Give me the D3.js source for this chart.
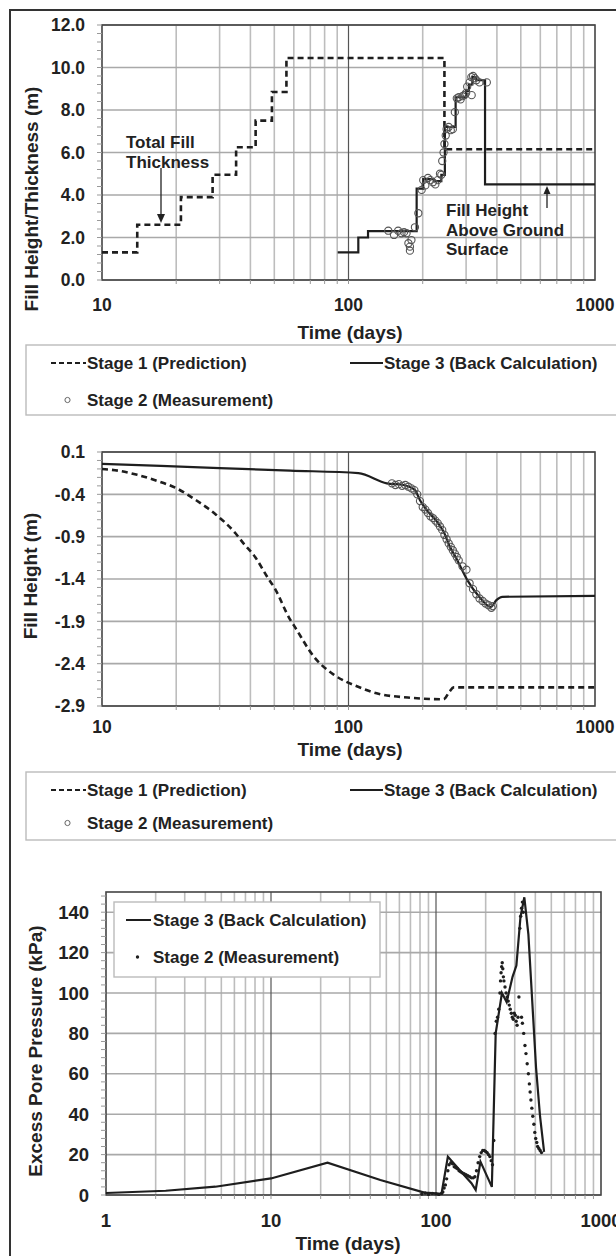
<!DOCTYPE html>
<meta charset="utf-8">
<head>
<script type="text/javascript" src="https://cdn.jsdelivr.net/npm/d3@7"></script>
<style>
  body { margin: 0; background: #fff; }
  text { font-family: "Liberation Sans", Arial, sans-serif; font-weight: bold; fill: #222; }
</style>
</head>
<body>
<script>
// ---------- data ----------
// panel 1: fill height / thickness (m)
var fillPrediction = [[10,1.3],[13.9,2.6],[20.9,3.9],[28.1,4.95],[35,6.25],[42,7.5],[48.9,8.85],[56,10.45],[245,6.15],[1000,6.15]];
var fillBackCalc = [[90.4,1.3],[109.6,2.0],[120,2.3],[189,4.3],[201,4.75],[222,4.65],[238,4.95],[246,7.2],[272,8.6],[300,8.9],[308,9.2],[318,9.55],[330,9.4],[358,4.5],[1000,4.5]];
var fillMeasured = [[145,2.32],[153,2.12],[159,2.32],[164,2.2],[168,2.25],[172,2.2],[175,1.73],[177.5,1.57],[180,1.88],[177.5,1.38],[186,2.48],[192,3.14],
  [198,4.24],[201,4.7],[205,4.45],[210,4.8],[215,4.7],[220,4.6],[225,4.5],[230,4.7],[235,5.0],[238,4.95],[240,5.6],[243,6.0],[245,6.4],[248,6.8],
  [250,7.1],[255,7.2],[260,7.05],[265,7.1],[270,7.9],[275,8.55],[280,8.6],[285,8.5],[290,8.65],[295,8.7],[300,8.8],[303,9.1],[316,8.7],[310,9.3],
  [315,9.55],[320,9.6],[325,9.5],[330,9.4],[340,9.3],[364,9.3]];

// panel 2: fill height (settlement, m)
var settlePrediction = [[10,-0.10],[11.6,-0.12],[13.9,-0.17],[16.7,-0.24],[20.1,-0.33],[24.1,-0.47],[29,-0.64],[34.8,-0.86],[37.5,-0.98],[41.8,-1.14],
  [46.7,-1.37],[50.2,-1.51],[58,-1.88],[60.4,-1.96],[72.5,-2.32],[87.1,-2.53],[97.3,-2.61],[104.7,-2.65],[130,-2.75],[174,-2.80],[243,-2.82],
  [257,-2.73],[267,-2.68],[1000,-2.68]];
var settleBackCalc = [[10,-0.04],[30,-0.09],[58,-0.12],[109.7,-0.15],[143,-0.27],[167,-0.29],[186,-0.35],[195,-0.47],[207.5,-0.585],[228,-0.72],
  [243,-0.84],[258,-1.02],[272,-1.14],[303,-1.41],[339,-1.61],[378,-1.73],[398,-1.65],[421,-1.61],[1000,-1.60]];
var settleMeasured = [[150,-0.27],[155,-0.29],[160,-0.28],[165,-0.30],[170,-0.29],[175,-0.31],[180,-0.33],[185,-0.35],[190,-0.40],[195,-0.48],
  [200,-0.55],[205,-0.58],[210,-0.62],[215,-0.66],[220,-0.68],[225,-0.71],[230,-0.74],[235,-0.78],[240,-0.82],[245,-0.88],[250,-0.93],
  [255,-0.98],[260,-1.02],[265,-1.06],[270,-1.10],[275,-1.14],[280,-1.18],[290,-1.25],[301,-1.29],[310,-1.45],[320,-1.52],[330,-1.58],
  [340,-1.63],[350,-1.66],[360,-1.69],[370,-1.71],[380,-1.74],[385,-1.72]];

// panel 3: excess pore pressure (kPa)
var poreBackCalc = [[1,1.0],[2.3,2.1],[4.6,4.1],[10,8.2],[22,16],[46,7.4],[85,1.2],[100,0.8],[108,0.6],[118,19],[139,12.4],[164,5.8],[174,2.5],
  [186,16.5],[218,4],[230,80],[251,100],[268,95.5],[291,108],[307,113.6],[325,137.5],[343,147.4],[363,129],[383,96],[404,63],[427,39],[452,21.4]];
var poreMeasured = [[82,0.5],[86,1.0],[90,0.3],[95,0.8],[100,0.5],[104,0.2],[108,0.8],[110,1.5],[112,3.5],[114,5],[116,8],[118,12],[120,15],
  [123,16],[126,15.5],[129,14],[132,13.5],[135,13],[138,12],[141,11.5],[144,11],[148,10.5],[152,10],[156,9.5],[160,9],[164,8.5],[168,8.5],
  [172,9],[176,12],[180,16],[184,19],[188,21],[192,22],[196,22],[200,21.5],[204,21],[208,20],[212,19],[216,17],[220,15],[224,27],[228,80],
  [232,86],[236,88],[240,92],[244,100],[246,106],[248,110],[250,113],[252,115],[254,112],[256,108],[258,106],[262,103],[266,100],[270,98],
  [274,96],[278,94],[282,92],[286,90],[290,88],[294,87],[298,90],[302,89],[306,86],[310,84],[314,88],[318,98],[322,132],[326,138],[330,142],
  [334,145],[338,140],[330,88],[334,85],[340,80],[346,74],[351,70],[357,65],[363,60],[368,55],[372,51],[376,47],[381,43],[386,39],[392,35],
  [397,31],[402,28],[408,26],[413,24],[420,23],[428,22],[436,21]];

var legendTop = ["Stage 1 (Prediction)", "Stage 3 (Back Calculation)", "Stage 2 (Measurement)"];
var legendPore = ["Stage 3 (Back Calculation)", "Stage 2 (Measurement)"];

// ---------- drawing ----------
var svg = d3.select("body").append("svg")
    .attr("width", 616)
    .attr("height", 1256);

svg.append("rect").attr("width", 616).attr("height", 1256).attr("fill", "#fff");

// outer figure frame
svg.append("rect")
    .attr("x", 10).attr("y", 10)
    .attr("width", 640).attr("height", 1280)
    .attr("fill", "none").attr("stroke", "#333").attr("stroke-width", 2);

var clipId = 0;

function drawPanel(p) {
  var x = d3.scaleLog().domain(p.xDomain).range([p.left, p.right]);
  var y = d3.scaleLinear().domain(p.yDomain).range([p.bottom, p.top]);
  var g = svg.append("g");

  // vertical grid: minor + decades
  var minor = [], decades = [];
  for (var d = p.xDomain[0]; d < p.xDomain[1]; d *= 10) {
    for (var k = 2; k <= 9; k++) minor.push(d * k);
    if (d > p.xDomain[0]) decades.push(d);
  }
  g.selectAll(".vg").data(minor).enter().append("line")
      .attr("x1", d => x(d)).attr("x2", d => x(d))
      .attr("y1", p.top).attr("y2", p.bottom)
      .attr("stroke", "#bdbdbd").attr("stroke-width", 1.6);

  // horizontal grid
  g.selectAll(".hg").data(p.yTicks).enter().append("line")
      .attr("x1", p.left).attr("x2", p.right)
      .attr("y1", d => y(d)).attr("y2", d => y(d))
      .attr("stroke", "#a9a9a9").attr("stroke-width", 1.6);

  g.selectAll(".dg").data(decades).enter().append("line")
      .attr("x1", d => x(d)).attr("x2", d => x(d))
      .attr("y1", p.top).attr("y2", p.bottom)
      .attr("stroke", "#555").attr("stroke-width", 1.2);

  // frame
  g.append("rect")
      .attr("x", p.left).attr("y", p.top)
      .attr("width", p.right - p.left).attr("height", p.bottom - p.top)
      .attr("fill", "none").attr("stroke", "#444").attr("stroke-width", 1.6);

  // y minor ticks
  g.selectAll(".ym").data(p.yMinor).enter().append("line")
      .attr("x1", p.left - 5).attr("x2", p.left)
      .attr("y1", d => y(d)).attr("y2", d => y(d))
      .attr("stroke", "#999").attr("stroke-width", 1);

  // x ticks below axis
  g.selectAll(".xm").data(minor.concat(decades)).enter().append("line")
      .attr("x1", d => x(d)).attr("x2", d => x(d))
      .attr("y1", p.bottom).attr("y2", p.bottom + 4)
      .attr("stroke", "#999").attr("stroke-width", 1);

  // y tick labels
  g.selectAll(".yl").data(p.yTicks).enter().append("text")
      .attr("x", p.left - 17).attr("y", d => y(d)).attr("dy", "0.36em")
      .attr("text-anchor", "end")
      .style("font-size", p.tickSize + "px")
      .text(p.yFormat);

  // x tick labels
  var xl = decades.slice(); xl.unshift(p.xDomain[0]); xl.push(p.xDomain[1]);
  g.selectAll(".xl").data(xl).enter().append("text")
      .attr("x", d => x(d)).attr("y", p.bottom + p.xLabelGap).attr("dy", "0.36em")
      .attr("text-anchor", "middle")
      .style("font-size", p.tickSize + "px")
      .text(d => d);

  // axis titles
  g.append("text")
      .attr("x", p.xTitleX).attr("y", p.xTitleY).attr("dy", "0.36em")
      .attr("text-anchor", "middle").style("font-size", "19px")
      .text("Time (days)");
  g.append("text")
      .attr("transform", "translate(" + p.yTitleX + "," + p.yTitleY + ") rotate(-90)")
      .attr("dy", "0.36em").attr("text-anchor", "middle").style("font-size", "19px")
      .text(p.yTitle);

  clipId++;
  svg.append("clipPath").attr("id", "clip" + clipId).append("rect")
      .attr("x", p.left).attr("y", p.top - 1)
      .attr("width", p.right - p.left).attr("height", p.bottom - p.top + 2);
  var plot = svg.append("g").attr("clip-path", "url(#clip" + clipId + ")");
  return { x: x, y: y, g: plot };
}

function drawLine(P, data, curve, dashed, width) {
  P.g.append("path")
      .datum(data)
      .attr("fill", "none")
      .attr("stroke", "#1e1e1e")
      .attr("stroke-width", width)
      .attr("stroke-dasharray", dashed ? "6,4" : null)
      .attr("d", d3.line().curve(curve).x(d => P.x(d[0])).y(d => P.y(d[1])));
}

function drawCircles(P, data) {
  P.g.selectAll(null).data(data).enter().append("circle")
      .attr("cx", d => P.x(d[0])).attr("cy", d => P.y(d[1]))
      .attr("r", 3.6)
      .attr("fill", "none").attr("stroke", "#555").attr("stroke-width", 1.1);
}

function drawLegendWide(top, bottom, rowY1, rowY2) {
  svg.append("rect")
      .attr("x", 26).attr("y", top).attr("width", 620).attr("height", bottom - top)
      .attr("fill", "#fff").attr("stroke", "#bbb").attr("stroke-width", 1.4);
  svg.append("line").attr("x1", 51).attr("x2", 86).attr("y1", rowY1).attr("y2", rowY1)
      .attr("stroke", "#1e1e1e").attr("stroke-width", 2).attr("stroke-dasharray", "5,3");
  svg.append("text").attr("x", 87).attr("y", rowY1).attr("dy", "0.36em")
      .style("font-size", "17px").text(legendTop[0]);
  svg.append("line").attr("x1", 350).attr("x2", 383).attr("y1", rowY1).attr("y2", rowY1)
      .attr("stroke", "#1e1e1e").attr("stroke-width", 2);
  svg.append("text").attr("x", 384).attr("y", rowY1).attr("dy", "0.36em")
      .style("font-size", "17px").text(legendTop[1]);
  svg.append("circle").attr("cx", 67.5).attr("cy", rowY2).attr("r", 2.6)
      .attr("fill", "none").attr("stroke", "#666").attr("stroke-width", 1);
  svg.append("text").attr("x", 87).attr("y", rowY2).attr("dy", "0.36em")
      .style("font-size", "17px").text(legendTop[2]);
}

// ----- panel 1 -----
var P1 = drawPanel({
  xDomain: [10, 1000], left: 102, right: 595,
  yDomain: [0, 12], top: 25, bottom: 280,
  yTicks: d3.range(0, 12.01, 2), yMinor: d3.range(0, 12.01, 0.4),
  yFormat: d => d.toFixed(1), tickSize: 17.5, xLabelGap: 25,
  yTitle: "Fill Height/Thickness (m)", yTitleX: 31, yTitleY: 199, xTitleX: 350, xTitleY: 332
});
drawLine(P1, fillPrediction, d3.curveStepAfter, true, 2.6);
drawLine(P1, fillBackCalc, d3.curveStepAfter, false, 2.2);
drawCircles(P1, fillMeasured);

// annotations
var ann = svg.append("g").style("font-size", "17px");
ann.append("text").attr("x", 126).attr("y", 142).attr("dy", "0.36em").text("Total Fill");
ann.append("text").attr("x", 126).attr("y", 162).attr("dy", "0.36em").text("Thickness");
ann.append("line").attr("x1", 161).attr("x2", 161).attr("y1", 168).attr("y2", 216)
    .attr("stroke", "#222").attr("stroke-width", 1.3);
ann.append("path").attr("d", "M157,214 L165,214 L161,223 Z").attr("fill", "#222");
ann.append("text").attr("x", 446).attr("y", 210).attr("dy", "0.36em").text("Fill Height");
ann.append("text").attr("x", 446).attr("y", 229.5).attr("dy", "0.36em").text("Above Ground");
ann.append("text").attr("x", 446).attr("y", 249).attr("dy", "0.36em").text("Surface");
ann.append("line").attr("x1", 547).attr("x2", 547).attr("y1", 208).attr("y2", 192)
    .attr("stroke", "#222").attr("stroke-width", 1.3);
ann.append("path").attr("d", "M543.5,194 L550.5,194 L547,186 Z").attr("fill", "#222");

drawLegendWide(345, 415, 363, 400);

// ----- panel 2 -----
var P2 = drawPanel({
  xDomain: [10, 1000], left: 102, right: 595,
  yDomain: [-2.9, 0.1], top: 452, bottom: 706,
  yTicks: d3.range(0, 7).map(i => +(0.1 - 0.5 * i).toFixed(1)),
  yMinor: d3.range(0, 31).map(i => 0.1 - 0.1 * i),
  yFormat: d => d.toFixed(1), tickSize: 17.5, xLabelGap: 21,
  yTitle: "Fill Height (m)", yTitleX: 30, yTitleY: 576, xTitleX: 350, xTitleY: 749
});
drawLine(P2, settlePrediction, d3.curveMonotoneX, true, 2.6);
drawLine(P2, settleBackCalc, d3.curveMonotoneX, false, 2.2);
drawCircles(P2, settleMeasured);

drawLegendWide(772, 840, 790, 823);

// ----- panel 3 -----
var P3 = drawPanel({
  xDomain: [1, 1000], left: 106, right: 601,
  yDomain: [0, 150], top: 892, bottom: 1195,
  yTicks: d3.range(0, 141, 20), yMinor: d3.range(0, 149, 4),
  yFormat: d => d, tickSize: 18.5, xLabelGap: 25,
  yTitle: "Excess Pore Pressure (kPa)", yTitleX: 35, yTitleY: 1051, xTitleX: 348, xTitleY: 1243
});
drawLine(P3, poreBackCalc, d3.curveLinear, false, 2.2);
P3.g.selectAll(null).data(poreMeasured).enter().append("circle")
    .attr("cx", d => P3.x(d[0])).attr("cy", d => P3.y(d[1]))
    .attr("r", 1.7).attr("fill", "#1e1e1e");

// legend inside panel 3
var lg = svg.append("g");
lg.append("rect").attr("x", 114).attr("y", 902).attr("width", 266).attr("height", 75)
    .attr("fill", "#fff").attr("stroke", "#bbb").attr("stroke-width", 1.4);
lg.append("line").attr("x1", 126).attr("x2", 151).attr("y1", 920).attr("y2", 920)
    .attr("stroke", "#1e1e1e").attr("stroke-width", 2);
lg.append("text").attr("x", 153).attr("y", 920).attr("dy", "0.36em")
    .style("font-size", "17px").text(legendPore[0]);
lg.append("circle").attr("cx", 137.5).attr("cy", 957).attr("r", 1.7).attr("fill", "#1e1e1e");
lg.append("text").attr("x", 153).attr("y", 957).attr("dy", "0.36em")
    .style("font-size", "17px").text(legendPore[1]);
</script>
</body>
